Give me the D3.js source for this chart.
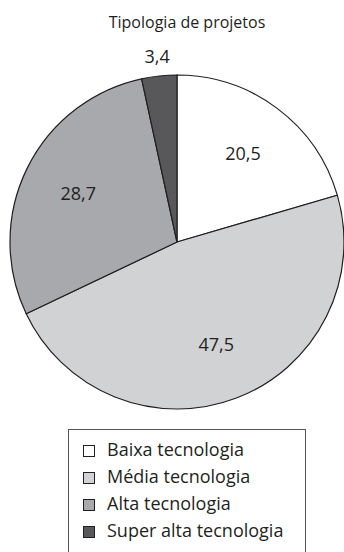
<!DOCTYPE html>
<html>
<head>
	<meta charset="utf-8">
	<title>Tipologia de projetos</title>
	<script type="text/javascript" src="https://d3js.org/d3.v7.min.js"></script>
	<style>
		body{ margin: 0; background: #fff; }
		.chart text{
			font-family: "Open Sans", Lato, sans-serif;
			fill: #231f20;
		}
	</style>
</head>
<body>
<svg class="chart"></svg>

<script type="text/javascript">
	// data
	var categories = ["Baixa tecnologia", "Média tecnologia", "Alta tecnologia", "Super alta tecnologia"];
	var values = [20.5, 47.5, 28.7, 3.4];
	var valueLabels = ["20,5", "47,5", "28,7", "3,4"];
	var colors = ["#ffffff", "#d1d2d4", "#a8a9ac", "#58585b"];

	var width = 344, height = 552;
	var cx = 177, cy = 242, radius = 167;

	var svg = d3.select(".chart")
		.attr("width", width)
		.attr("height", height);

	svg.append("text")
		.attr("x", 187)
		.attr("y", 28)
		.attr("text-anchor", "middle")
		.style("font-size", "16px")
		.text("Tipologia de projetos");

	var pie = d3.pie().sort(null).value(function(d){ return d; });
	var arcs = pie(values);

	var arc = d3.arc().innerRadius(0).outerRadius(radius);
	// centroid of a zero-width arc lies on that radius
	var labelArc = d3.arc().innerRadius(110).outerRadius(110);
	var outerArc = d3.arc().innerRadius(radius + 19).outerRadius(radius + 19);

	var g = svg.append("g")
		.attr("transform", "translate(" + cx + "," + cy + ")");

	g.selectAll("path")
		.data(arcs)
	  .enter().append("path")
		.attr("d", arc)
		.attr("fill", function(d, i){ return colors[i]; })
		.attr("stroke", "#231f20")
		.attr("stroke-width", 1.2);

	// small slice gets its label outside the pie
	g.selectAll("text.val")
		.data(arcs)
	  .enter().append("text")
		.attr("class", "val")
		.attr("transform", function(d){
			var c = (d.data < 5 ? outerArc : labelArc).centroid(d);
			return "translate(" + c + ")";
		})
		.attr("text-anchor", "middle")
		.attr("dy", ".35em")
		.style("font-size", "18px")
		.text(function(d, i){ return valueLabels[i]; });

	// legend
	var legend = svg.append("g")
		.attr("transform", "translate(68,429)");

	legend.append("rect")
		.attr("x", 0.5)
		.attr("y", 0.5)
		.attr("width", 237)
		.attr("height", 140)
		.attr("fill", "none")
		.attr("stroke", "#555")
		.attr("stroke-width", 1);

	var item = legend.selectAll("g.item")
		.data(categories)
	  .enter().append("g")
		.attr("class", "item")
		.attr("transform", function(d, i){ return "translate(0," + (27 + i * 27) + ")"; });

	item.append("rect")
		.attr("x", 15.5)
		.attr("y", -10.5)
		.attr("width", 11)
		.attr("height", 11)
		.attr("fill", function(d, i){ return colors[i]; })
		.attr("stroke", "#231f20")
		.attr("stroke-width", 1);

	item.append("text")
		.attr("x", 39)
		.attr("y", 0)
		.style("font-size", "18px")
		.text(function(d){ return d; });
</script>
</body>
</html>
